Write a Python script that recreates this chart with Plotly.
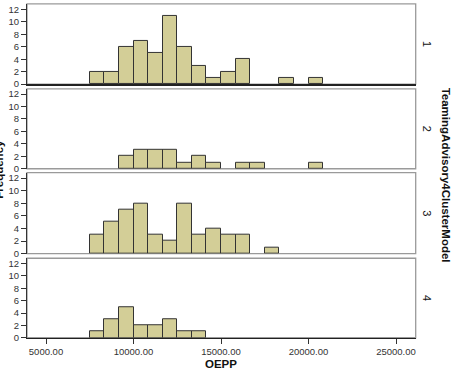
import plotly.graph_objects as go

# ---- data ----
bin_start = 7500.0
bin_width = 833.333
clusters = ["1", "2", "3", "4"]
counts_1 = [2, 2, 6, 7, 5, 11, 6, 3, 1, 2, 4, 0, 0, 1, 0, 1]
counts_2 = [0, 0, 2, 3, 3, 3, 1, 2, 1, 0, 1, 1, 0, 0, 0, 1]
counts_3 = [3, 5, 7, 8, 3, 2, 8, 3, 4, 3, 3, 0, 1, 0, 0, 0]
counts_4 = [1, 3, 5, 2, 2, 3, 1, 1, 0, 0, 0, 0, 0, 0, 0, 0]
all_counts = [counts_1, counts_2, counts_3, counts_4]
x_ticks = [5000, 10000, 15000, 20000, 25000]
x_tick_labels = ["5000.00", "10000.00", "15000.00", "20000.00", "25000.00"]
y_ticks = [0, 2, 4, 6, 8, 10, 12]

W, H = 453, 378
FONT = "Liberation Sans, Arial, sans-serif"
BAR = "#d3ce97"
FRAME = "#9a9a9a"

# panel pixel extents (top, bottom)
panels_px = [(4, 85.3), (90, 171), (175, 257), (261.7, 342.3)]
x_left_px, x_right_px = 27, 415.7

fig = go.Figure()
centers = [bin_start + bin_width * (i + 0.5) for i in range(len(counts_1))]

for i, counts in enumerate(all_counts):
    n = i + 1
    xs = [c for c, v in zip(centers, counts) if v > 0]
    ys = [v for v in counts if v > 0]
    fig.add_trace(go.Bar(
        x=xs, y=ys, width=bin_width,
        marker=dict(color=BAR, line=dict(color="#333333", width=1)),
        xaxis=f"x{n}" if n > 1 else "x",
        yaxis=f"y{n}" if n > 1 else "y",
        showlegend=False, hoverinfo="skip",
    ))

layout = dict(
    width=W, height=H,
    margin=dict(l=0, r=0, t=0, b=0),
    paper_bgcolor="white", plot_bgcolor="white",
    font=dict(family=FONT, size=10, color="#333333"),
    bargap=0,
    showlegend=False,
)

xr = [3914, 26126]
dom_x = [x_left_px / W, x_right_px / W]
shapes = []
annotations = []
for i, (top, bot) in enumerate(panels_px):
    n = i + 1
    sfx = "" if n == 1 else str(n)
    dom_y = [1 - bot / H, 1 - top / H]
    last = n == 4
    layout[f"xaxis{sfx}"] = dict(
        domain=dom_x, range=xr, anchor=f"y{sfx}",
        showgrid=False, zeroline=False,
        showline=(n == 1 or last), linecolor="#222222", linewidth=2 if n == 1 else 1,
        tickvals=x_ticks if last else [], ticktext=x_tick_labels if last else [],
        ticks="outside" if last else "", ticklen=5, tickcolor="#333333",
        showticklabels=last,
        tickfont=dict(size=9.5, color="#333333"),
        matches="x" if n > 1 else None,
        fixedrange=True,
    )
    layout[f"yaxis{sfx}"] = dict(
        domain=dom_y, range=[0, 12.85], anchor=f"x{sfx}",
        showgrid=False, zeroline=False,
        showline=True, linecolor="#333333", linewidth=1,
        tickvals=y_ticks, ticks="outside", ticklen=5, tickcolor="#333333",
        tickfont=dict(size=9.5, color="#333333"),
        fixedrange=True,
    )
    shapes.append(dict(
        type="rect", xref="paper", yref="paper",
        x0=dom_x[0], x1=dom_x[1], y0=dom_y[0], y1=dom_y[1],
        line=dict(color=FRAME, width=1.3), layer="below",
    ))
    annotations.append(dict(
        text=clusters[i], xref="paper", yref="paper",
        x=427 / W, y=(dom_y[0] + dom_y[1]) / 2,
        showarrow=False, textangle=90,
        font=dict(size=11, color="#111111", family=FONT),
        xanchor="center", yanchor="middle",
    ))

annotations.append(dict(
    text="<b>TeamingAdvisory4ClusterModel</b>", xref="paper", yref="paper",
    x=446 / W, y=1 - 177 / H, showarrow=False, textangle=90,
    font=dict(size=11.5, color="#111111", family=FONT),
    xanchor="center", yanchor="middle",
))
annotations.append(dict(
    text="<b>Frequency</b>", xref="paper", yref="paper",
    x=-1 / W, y=1 - 172 / H, showarrow=False, textangle=-90,
    font=dict(size=11.5, color="#111111", family=FONT),
    xanchor="center", yanchor="middle",
))
annotations.append(dict(
    text="<b>OEPP</b>", xref="paper", yref="paper",
    x=221 / W, y=1 - 369 / H, showarrow=False,
    font=dict(size=11.5, color="#111111", family=FONT),
    xanchor="center", yanchor="middle",
))

layout["shapes"] = shapes
layout["annotations"] = annotations
fig.update_layout(**layout)
fig.write_html("out.html")
